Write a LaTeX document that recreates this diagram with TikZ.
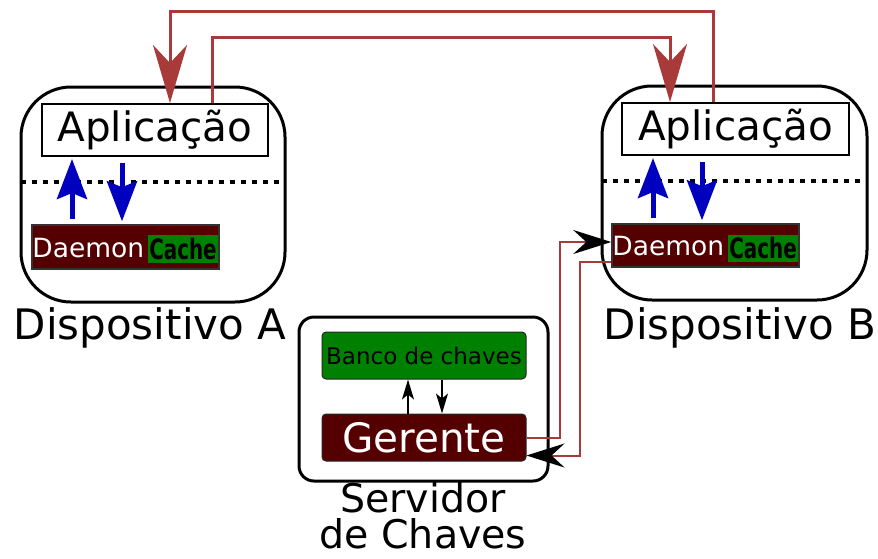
\documentclass[tikz,border=0pt]{standalone}
\usepackage{fontspec}
\setmainfont{DejaVu Sans}
\usetikzlibrary{arrows.meta,calc}
\definecolor{linkred}{RGB}{168,58,58}
\definecolor{flowblue}{RGB}{0,0,190}
\definecolor{darkmaroon}{RGB}{85,0,0}
\definecolor{keygreen}{RGB}{0,128,0}
\tikzset{
  device/.style={draw=black,line width=3pt,rounded corners=50pt,minimum width=#1},
  appbox/.style={draw=black,line width=2pt,minimum width=226pt,minimum height=52pt,inner sep=0pt,
    font=\fontsize{40.5}{42}\selectfont},
  daemonbox/.style={draw=black!80,line width=1.5pt,fill=darkmaroon,minimum width=187pt,minimum height=44pt,inner sep=0pt},
  cachebox/.style={fill=keygreen,minimum width=70pt,minimum height=28pt,inner sep=0pt,
    font=\fontsize{28}{28}\selectfont\bfseries},
  daemontext/.style={text=white,inner sep=0pt,font=\fontsize{26.5}{28}\selectfont},
  serverbox/.style={draw=black,line width=3pt,rounded corners=15pt,minimum width=249pt,minimum height=164pt},
  keybox/.style={draw=black!85,line width=1pt,rounded corners=4pt,minimum width=204pt,minimum height=47pt,inner sep=0pt},
  caption/.style={inner sep=0pt,font=\fontsize{42}{42}\selectfont},
  dotline/.style={line width=4pt,dash pattern=on 5pt off 6pt},
  toplink/.style={draw=linkred,line width=3pt,-{Stealth[length=58pt,width=34pt,inset=18pt]}},
  lowlink/.style={draw=linkred,line width=2pt,-{Stealth[length=38pt,width=24pt,inset=13pt,black]}},
  bluearrow/.style={draw=flowblue,line width=5pt,-{Stealth[length=40pt,width=30pt,inset=6pt]}},
  smallarrow/.style={draw=black,line width=1.5pt,-{Stealth[length=20pt,width=12pt,inset=5pt]}}
}
\begin{document}
\begin{tikzpicture}[x=1pt,y=-1pt]
\useasboundingbox (0,0) rectangle (878,558);

% Device A
\node[device=264pt,minimum height=215pt] (devA) at (153,194.5) {};
\node[appbox] (appA) at (155,130) {Aplicação};
\node[daemonbox] (dA) at (125.5,247) {};
\node[cachebox] (cA) at (183,249) {\scalebox{0.71}[1]{Cache}};
\node[daemontext,anchor=west] (tA) at ([xshift=1pt,yshift=-1pt]dA.west) {Daemon};
\draw[dotline] ([xshift=1pt,yshift=12.5pt]devA.west) -- ([xshift=-2pt,yshift=12.5pt]devA.east);
\node[caption,anchor=base] (capA) at (150,339) {Dispositivo A};

% Device B
\node[device=265pt,minimum height=214pt] (devB) at (734.5,193) {};
\node[appbox,minimum width=227pt] (appB) at (735.5,129) {Aplicação};
\node[daemonbox,minimum height=43pt] (dB) at (705.5,245.5) {};
\node[cachebox,minimum height=27pt] (cB) at (763,248.5) {\scalebox{0.71}[1]{Cache}};
\node[daemontext,anchor=west] (tB) at ([xshift=1pt,yshift=-1pt]dB.west) {Daemon};
\draw[dotline] ([xshift=1pt,yshift=12pt]devB.west) -- ([xshift=-2pt,yshift=12pt]devB.east);
\node[caption,anchor=base] (capB) at (740,339) {Dispositivo B};

% Key server
\node[serverbox] (srv) at (423.5,399) {};
\node[keybox,fill=keygreen,font=\fontsize{23}{26}\selectfont] (bank) at (424,355.5) {Banco de chaves};
\node[keybox,fill=darkmaroon,text=white,font=\fontsize{40.5}{42}\selectfont] (ger) at (424,437.5) {Gerente};
\node[inner sep=0pt,align=center,anchor=base,font=\fontsize{39.5}{36}\selectfont] (capS) at (423,548) {Servidor\\de Chaves};

% Application <-> daemon flows
\draw[bluearrow,shorten <=5pt,shorten >=2pt] ([xshift=-53.5pt]dA.north) -- ([xshift=-53.5pt]dA.north |- appA.south);
\draw[bluearrow,shorten <=6pt,shorten >=3pt] ([xshift=-33pt]appA.south) -- ([xshift=-33pt]appA.south |- dA.north);
\draw[bluearrow,shorten <=5pt,shorten >=2pt] ([xshift=-82.5pt]appB.south |- dB.north) -- ([xshift=-82.5pt]appB.south);
\draw[bluearrow,shorten <=6pt,shorten >=3pt] ([xshift=-33.5pt]appB.south) -- ([xshift=-33.5pt]appB.south |- dB.north);

% Bank <-> manager
\draw[smallarrow] ([xshift=-16pt]ger.north) -- ([xshift=-16pt]bank.south);
\draw[smallarrow] ([xshift=18pt]bank.south) -- ([xshift=18pt]ger.north);

% Application to application links
\draw[toplink] ([xshift=-22.5pt]appB.north) -- ++(0,-91) -| ([xshift=15pt]appA.north);
\draw[toplink] ([xshift=57pt]appA.north) -- ++(0,-66) -| ([xshift=-65.5pt]appB.north);

% Manager <-> daemon B links
\draw[lowlink] (ger.east) -- ++(33,0) |- ([yshift=3.5pt]dB.west);
\draw[lowlink] ([yshift=-16pt]dB.west) -- ++(-31,0) |- ([yshift=-18pt]ger.east);
\end{tikzpicture}
\end{document}
